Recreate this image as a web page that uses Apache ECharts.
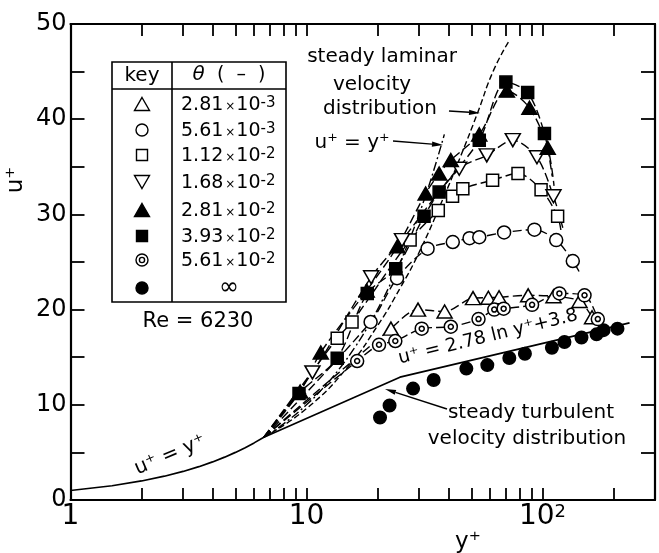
<!DOCTYPE html>
<html><head><meta charset="utf-8">
<script src="https://cdn.jsdelivr.net/npm/echarts@6.0.0/dist/echarts.min.js"></script>
<style>html,body{margin:0;padding:0;background:#fff}#c{width:659px;height:553px}</style>
</head><body><div id="c"></div>
<script>
// ---- axis ticks ----
const xLabelValues = [1, 10, 100];
const xTickValues = [2,3,4,5,6,7,8,9,10,20,30,40,50,60,70,80,90,100,200];
const yLabelValues = [0, 10, 20, 30, 40, 50];

// ---- measured series (y+, u+) ----
const theta281e3 = [[22.8,18.0],[29.7,20.0],[38.5,19.8],[50.8,21.2],[59,21.25],[65.5,21.3],[87,21.5],[111.4,21.4],[143.6,20.9],[162.3,19.2]];
const theta561e3 = [[18.7,18.7],[24.2,23.3],[32.6,26.4],[41.7,27.1],[49.1,27.5],[54,27.6],[68.8,28.1],[92.5,28.4],[114.4,27.3],[134.5,25.1]];
const theta112e2 = [[13.5,17.0],[15.6,18.7],[27.5,27.3],[36.2,30.4],[41.6,31.9],[46,32.7],[61.5,33.6],[78.8,34.3],[98.7,32.6],[116,29.8]];
const theta168e2 = [[10.6,13.4],[18.8,23.4],[25.4,27.3],[44.4,34.8],[58.1,36.2],[74.9,37.8],[94.8,36.0],[111.4,31.9]];
const theta281e2 = [[9.4,11.4],[11.5,15.5],[18.0,22.0],[24.3,26.65],[32.0,32.2],[36.5,34.3],[40.9,35.7],[54,38.4],[70.7,43.0],[88.1,41.2],[105.3,37.0]];
const theta393e2 = [[9.3,11.2],[13.5,14.9],[18.1,21.7],[23.9,24.3],[31.5,29.8],[36.5,32.35],[54,37.8],[70,43.9],[86.6,42.8],[102,38.5]];
const theta561e2 = [[16.4,14.6],[20.3,16.3],[23.8,16.7],[30.8,18.0],[40.9,18.2],[53.6,19.0],[62.5,20.0],[68.5,20.1],[90.4,20.5],[118,21.7],[150.8,21.5],[171.7,19.0]];
const thetaInf   = [[20.5,8.66],[22.5,9.92],[28.3,11.7],[34.6,12.6],[47.6,13.8],[58.4,14.17],[72.4,14.92],[84.3,15.37],[109.7,16.0],[124,16.6],[146.4,17.07],[169.6,17.4],[181.6,17.84],[208,18.0]];

// ---- reference curves ----
const fanOrigin = [6.6, 6.6];
const steadyTurbulent = [[1,1],[1.5,1.5],[2,2],[2.5,2.5],[3,3],[3.5,3.5],[4,4],[4.5,4.5],[5,5],[5.5,5.5],[6,6],[6.6,6.6],[24.9,12.9],[234,18.6]];
const uEqualsY = [[6.6,6.6],[8,8],[10,10],[12,12],[14,14],[16,16],[18,18],[20,20],[23,23],[26,26],[29,29],[32,32],[35,35],[38.4,38.4]];
const steadyLaminar = [[6.6,6.6],[10,9.6],[15,14],[20,18.3],[25,22.3],[30,26],[38,31.7],[45,36.1],[53,40.6],[62,45.1],[72.5,48.3]];
// fitted (dashed) curve extensions beyond last point
const ext281e2 = [[112,33]];
const ext393e2 = [[110,34]];
const ext168e2 = [[122,28.6]];
const ext112e2 = [[120,28.2]];
const ext561e3 = [[143,24.0]];

const legendRows = [
  {sym:'triUp', fill:false, m:'2.81', e:'-3'},
  {sym:'circle', fill:false, m:'5.61', e:'-3'},
  {sym:'square', fill:false, m:'1.12', e:'-2'},
  {sym:'triDown', fill:false, m:'1.68', e:'-2'},
  {sym:'triUp', fill:true, m:'2.81', e:'-2'},
  {sym:'square', fill:true, m:'3.93', e:'-2'},
  {sym:'dcircle', fill:false, m:'5.61', e:'-2'},
  {sym:'circle', fill:true, m:null, e:null}
];

const FONT = 'DejaVu Sans';
const chart = echarts.init(document.getElementById('c'));

function fitLine(name, pts, dash) {
  return {type:'line', name, data: pts, symbol:'none', smooth:0.3, z:2,
    lineStyle:{color:'#000', width:1.4, type: dash || [9,4]}};
}
function scat(name, data, symbol, size, filled, rotate) {
  return {type:'scatter', name, data, symbol, symbolSize:size, symbolRotate: rotate||0, z:5,
    itemStyle:{color: filled ? '#000' : '#fff', borderColor:'#000', borderWidth:1.5, opacity:1}};
}

const series = [
  {type:'line', data: steadyTurbulent, symbol:'none', lineStyle:{color:'#000', width:1.7}, z:3},
  {type:'line', data: uEqualsY, symbol:'none', smooth:true, lineStyle:{color:'#000', width:1.4, type:[9,3,2,3]}, z:2},
  {type:'line', data: steadyLaminar, symbol:'none', smooth:true, lineStyle:{color:'#000', width:1.4, type:[6,3]}, z:2},
  fitLine('f1', [fanOrigin].concat(theta281e2, ext281e2)),
  fitLine('f2', [fanOrigin].concat(theta393e2, ext393e2)),
  fitLine('f3', [fanOrigin].concat(theta168e2, ext168e2)),
  fitLine('f4', [fanOrigin].concat(theta112e2, ext112e2)),
  fitLine('f5', [fanOrigin].concat(theta561e3, ext561e3)),
  fitLine('f6', [fanOrigin].concat(theta281e3)),
  fitLine('f7', [fanOrigin].concat(theta561e2)),
  scat('inf', thetaInf, 'circle', 12.5, true),
  scat('a', theta281e3, 'triangle', [15,13], false),
  scat('b', theta561e3, 'circle', 13, false),
  scat('c', theta112e2, 'rect', 12, false),
  scat('d', theta168e2, 'triangle', [15,13], false, 180),
  scat('e', theta281e2, 'triangle', [15,13], true),
  scat('f', theta393e2, 'rect', 12, true),
  scat('g', theta561e2, 'circle', 13, false),
  scat('g2', theta561e2, 'circle', 5, false)
];

// ---- legend table graphics ----
const G = [];
const TX0 = 112, TX1 = 172, TX2 = 286, TY0 = 62, TY1 = 89, TY2 = 302;
G.push({type:'rect', shape:{x:TX0, y:TY0, width:TX2-TX0, height:TY2-TY0}, style:{fill:'#fff', stroke:'#000', lineWidth:1.6}, z:10});
G.push({type:'line', shape:{x1:TX1, y1:TY0, x2:TX1, y2:TY2}, style:{stroke:'#000', lineWidth:1.6}, z:11});
G.push({type:'line', shape:{x1:TX0, y1:TY1, x2:TX2, y2:TY1}, style:{stroke:'#000', lineWidth:1.6}, z:11});
G.push({type:'text', x:142, y:76, style:{text:'key', fontSize:20, fontFamily:FONT, fill:'#000', align:'center', verticalAlign:'middle', textAlign:'center', textVerticalAlign:'middle'}, z:12});
G.push({type:'text', x:229, y:75, style:{text:'{t|θ}{p|  (  –  )}', fontSize:19, fontFamily:FONT, fill:'#000', align:'center', verticalAlign:'middle', textAlign:'center', textVerticalAlign:'middle',
  rich:{t:{fontStyle:'italic', fontSize:20, fontFamily:FONT}, p:{fontSize:19, fontFamily:FONT}}}, z:12});
const rowY = [104, 130, 155, 182, 210, 236, 260, 288];
const SX = 142;
legendRows.forEach((r, i) => {
  const y = rowY[i];
  const st = {fill: r.fill ? '#000' : '#fff', stroke:'#000', lineWidth:1.4};
  if (r.sym === 'triUp') G.push({type:'polygon', shape:{points:[[SX,y-6.5],[SX+7.5,y+6.5],[SX-7.5,y+6.5]]}, style:st, z:12});
  if (r.sym === 'triDown') G.push({type:'polygon', shape:{points:[[SX,y+6.5],[SX+7.5,y-6.5],[SX-7.5,y-6.5]]}, style:st, z:12});
  if (r.sym === 'square') G.push({type:'rect', shape:{x:SX-5.5, y:y-5.5, width:11, height:11}, style:st, z:12});
  if (r.sym === 'circle') G.push({type:'circle', shape:{cx:SX, cy:y, r:6}, style:st, z:12});
  if (r.sym === 'dcircle') {
    G.push({type:'circle', shape:{cx:SX, cy:y, r:6}, style:st, z:12});
    G.push({type:'circle', shape:{cx:SX, cy:y, r:2.6}, style:st, z:13});
  }
  if (r.m) {
    G.push({type:'text', x:181, y:y+1, style:{text:'{n|'+r.m+'}{x|×}{n|10}{s|'+r.e+'}', fontFamily:FONT, fill:'#000', align:'left', verticalAlign:'middle', textAlign:'left', textVerticalAlign:'middle',
      rich:{n:{fontSize:19, fontFamily:FONT, verticalAlign:'bottom'}, x:{fontSize:12, fontFamily:FONT, verticalAlign:'bottom', padding:[0,1,2,2]}, s:{fontSize:15, fontFamily:FONT, verticalAlign:'top'}}}, z:12});
  } else {
    G.push({type:'text', x:229, y:y, style:{text:'∞', fontSize:24, fontFamily:FONT, fill:'#000', align:'center', verticalAlign:'middle', textAlign:'center', textVerticalAlign:'middle'}, z:12});
  }
});
function txt(t, x, y, size, rot, align) {
  return {type:'text', x, y, rotation: rot||0, style:{text:t, fontSize:size, fontFamily:FONT, fill:'#000', align: align||'center', verticalAlign:'middle', textAlign: align||'center', textVerticalAlign:'middle'}, z:12};
}
G.push(txt('Re = 6230', 198, 322, 21));
G.push(txt('steady laminar', 382, 57, 20));
G.push(txt('velocity', 372, 85, 20));
G.push(txt('distribution', 380, 109, 20));
G.push(txt('u⁺ = y⁺', 352, 143, 20));
G.push(txt('u⁺ = y⁺', 170, 455, 20, 0.40));
G.push(txt('u⁺ = 2.78 ln y⁺+3.8', 488, 337, 18.5, 0.24));
G.push(txt('steady turbulent', 531, 413, 20));
G.push(txt('velocity distribution', 527, 439, 20));
G.push(txt('y⁺', 468, 542, 23));
G.push(txt('u⁺', 16, 180, 23, Math.PI/2));
function arrow(x1, y1, x2, y2) {
  const dx = x2-x1, dy = y2-y1, L = Math.hypot(dx, dy), ux = dx/L, uy = dy/L;
  const bx = x2-ux*11, by = y2-uy*11;
  G.push({type:'line', shape:{x1, y1, x2:bx, y2:by}, style:{stroke:'#000', lineWidth:1.5}, z:12});
  G.push({type:'polygon', shape:{points:[[x2,y2],[bx-uy*2.6,by+ux*2.6],[bx+uy*2.6,by-ux*2.6]]}, style:{fill:'#000'}, z:12});
}
arrow(449, 111, 480, 113);
arrow(393, 141, 443, 145);
arrow(447, 409, 385, 389);

const axisLine = {show:true, onZero:false, lineStyle:{color:'#000', width:2.2}};
const option = {
  backgroundColor:'#fff',
  animation:false,
  grid:{left:70.5, right:4, top:24, bottom:53, containLabel:false},
  xAxis:[
    {type:'log', logBase:10, min:1, max:300, position:'bottom', axisLine,
     axisTick:{show:true, inside:true, length:12, lineStyle:{color:'#000', width:1.8}, customValues:xTickValues},
     minorTick:{show:false}, splitLine:{show:false},
     axisLabel:{show:true, customValues:xLabelValues, margin:3, color:'#000', fontFamily:FONT, fontSize:28,
       formatter: v => v === 100 ? '{a|10}{b|2}' : String(v),
       rich:{a:{fontSize:28, fontFamily:FONT, color:'#000', verticalAlign:'bottom'}, b:{fontSize:18, fontFamily:FONT, color:'#000', verticalAlign:'top'}}}},
    {type:'log', logBase:10, min:1, max:300, position:'top', axisLine,
     axisTick:{show:true, inside:true, length:12, lineStyle:{color:'#000', width:1.8}, customValues:xTickValues},
     axisLabel:{show:false}, splitLine:{show:false}}
  ],
  yAxis:[
    {type:'value', min:0, max:50, interval:5, position:'left', axisLine,
     axisTick:{show:true, inside:true, length:14, lineStyle:{color:'#000', width:1.8}},
     splitLine:{show:false},
     axisLabel:{margin:4, color:'#000', fontFamily:FONT, fontSize:24, formatter: v => yLabelValues.indexOf(v) >= 0 ? String(v) : ''}},
    {type:'value', min:0, max:50, interval:5, position:'right', axisLine,
     axisTick:{show:true, inside:true, length:14, lineStyle:{color:'#000', width:1.8}},
     splitLine:{show:false}, axisLabel:{show:false}}
  ],
  series: series,
  graphic: G
};
chart.setOption(option);
</script></body></html>
